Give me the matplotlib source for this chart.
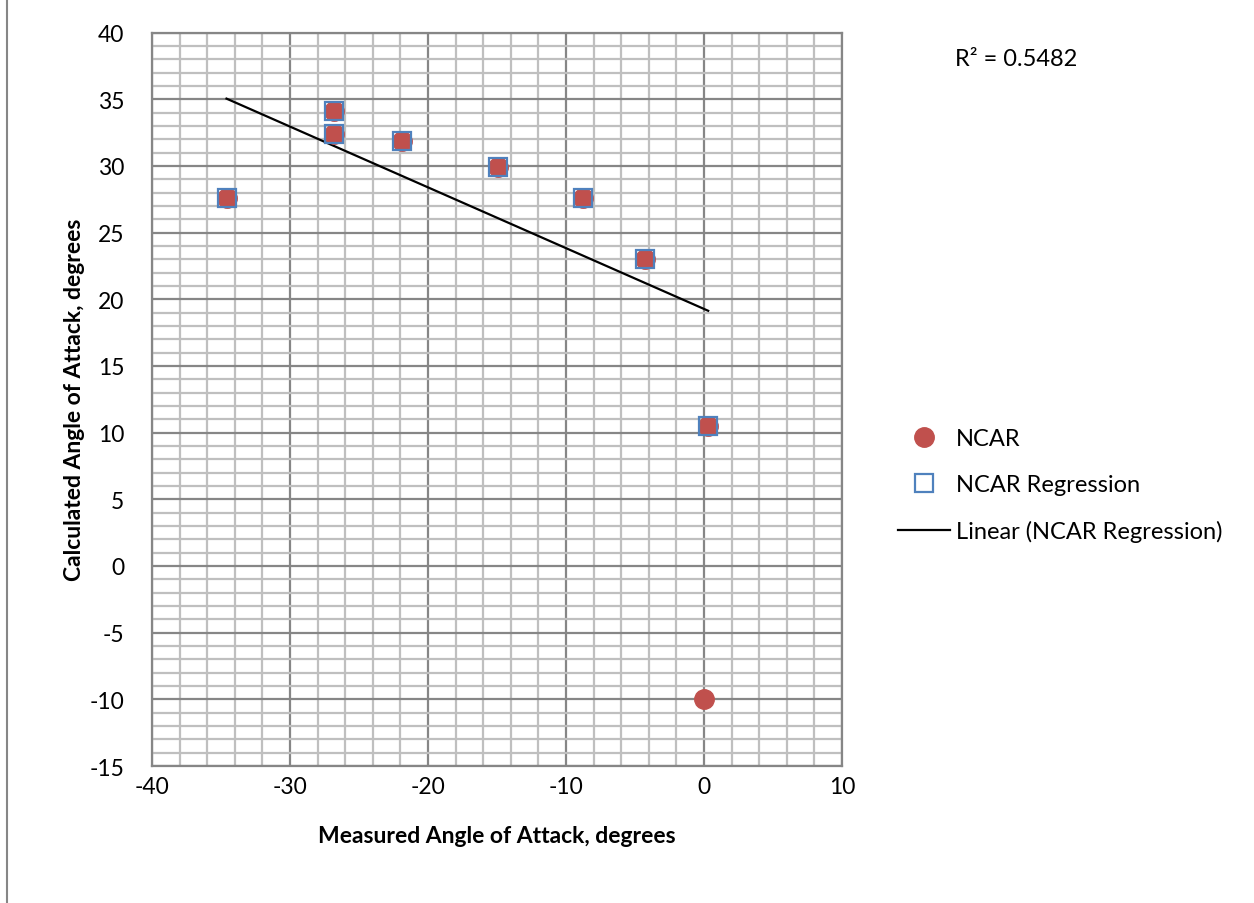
import numpy as np
import matplotlib.pyplot as plt
from matplotlib.patches import Rectangle
from matplotlib.ticker import MultipleLocator

# NCAR measured vs calculated angle of attack (degrees)
ncar_x = [-34.6, -26.8, -26.8, -21.9, -14.9, -8.8, -4.3, 0.3, 0.0]
ncar_y = [27.6, 34.1, 32.4, 31.9, 29.9, 27.6, 23.0, 10.5, -10.0]

# points kept for the regression (the -10 outlier dropped)
reg_x = [-34.6, -26.8, -26.8, -21.9, -14.9, -8.8, -4.3, 0.3]
reg_y = [27.6, 34.1, 32.4, 31.9, 29.9, 27.6, 23.0, 10.5]
r2_label = 'R² = 0.5482'

red = '#C0504D'
blue = '#4F81BD'

plt.rcParams['font.family'] = ['Lato', 'DejaVu Sans']
plt.rcParams['axes.unicode_minus'] = False

fig = plt.figure(figsize=(12.54, 9.04), dpi=100)
ax = fig.add_axes([0.1212, 0.1515, 0.5503, 0.8114])

slope, intercept = np.polyfit(reg_x, reg_y, 1)
fit_x = np.array([min(reg_x), max(reg_x)])

ax.plot(ncar_x, ncar_y, 'o', ms=14, color=red, mec=red, label='NCAR', zorder=3)
ax.plot(reg_x, reg_y, 's', ms=13.5, mfc='none', mec=blue, mew=1.6,
        label='NCAR Regression', zorder=4)
ax.plot(fit_x, slope * fit_x + intercept, color='black', lw=1.6,
        label='Linear (NCAR Regression)', zorder=2)

ax.set_xlim(-40, 10)
ax.set_ylim(-15, 40)
ax.xaxis.set_major_locator(MultipleLocator(10))
ax.xaxis.set_minor_locator(MultipleLocator(2))
ax.yaxis.set_major_locator(MultipleLocator(5))
ax.yaxis.set_minor_locator(MultipleLocator(1))
ax.grid(which='major', color='#868686', lw=1.6)
ax.grid(which='minor', color='#BFBFBF', lw=1.6)
ax.set_axisbelow(True)
for s in ax.spines.values():
    s.set_color('#868686')
    s.set_linewidth(1.6)

ax.tick_params(which='both', length=0)
ax.tick_params(axis='y', labelsize=16.5, pad=20)
ax.tick_params(axis='x', labelsize=16.5, pad=7)

ax.set_xlabel('Measured Angle of Attack, degrees', fontsize=16.5, fontweight='bold', labelpad=20)
ax.set_ylabel('Calculated Angle of Attack, degrees', fontsize=16.5, fontweight='bold')
ax.yaxis.set_label_coords(-0.097, 0.5)

fig.text(0.7616, 0.934, r2_label, fontsize=17, va='center')

ax.legend(loc='center left', bbox_to_anchor=(1.081, 0.383), frameon=False,
          fontsize=17, handlelength=2.2, handletextpad=0.25, labelspacing=1.05,
          borderpad=0, borderaxespad=0)

fig.patches.append(Rectangle((0.0056, -0.01), 1.1, 1.02, transform=fig.transFigure,
                             fill=False, edgecolor='#868686', lw=1.5))

fig.savefig('out.png', dpi=100)
